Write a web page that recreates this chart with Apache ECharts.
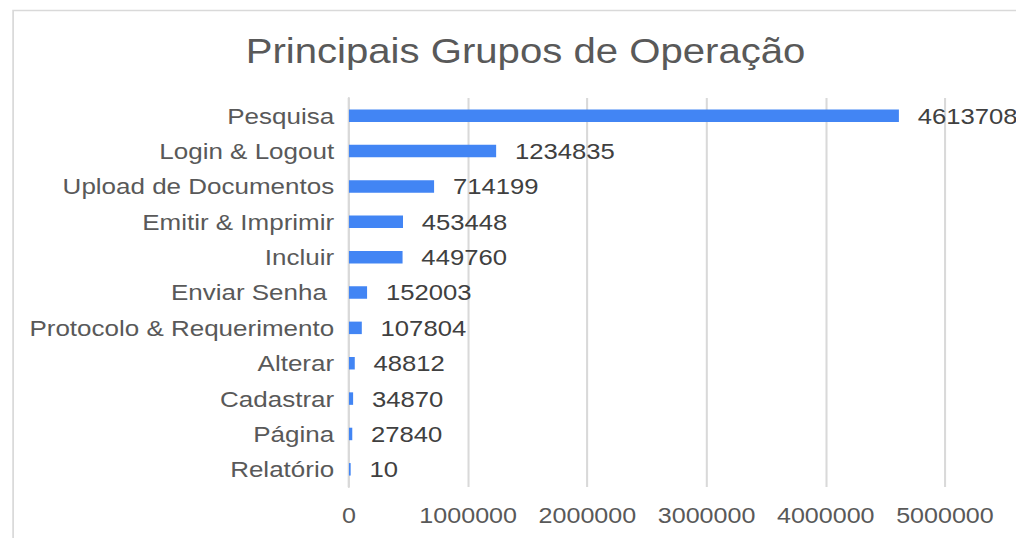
<!DOCTYPE html>
<html>
<head>
<meta charset="utf-8">
<script src="https://cdn.jsdelivr.net/npm/echarts@6/dist/echarts.min.js"></script>
<style>
  html, body { margin: 0; padding: 0; background: #ffffff; overflow: hidden; }
  #wrap { width: 1016px; height: 538px; overflow: hidden; position: relative; }
  #c { width: 892px; height: 538px; transform: scaleX(1.14); transform-origin: 0 0; position: absolute; left: 0; top: 0; }
</style>
</head>
<body>
<div id="wrap"><div id="c"></div></div>
<script>
const titleText = 'Principais Grupos de Operação';
const categories = ['Pesquisa', 'Login & Logout', 'Upload de Documentos', 'Emitir & Imprimir', 'Incluir', 'Enviar Senha ', 'Protocolo & Requerimento', 'Alterar', 'Cadastrar', 'Página', 'Relatório'];
const values = [4613708, 1234835, 714199, 453448, 449760, 152003, 107804, 48812, 34870, 27840, 10];
const axisMin = 0;
const axisMax = 5000000;
const axisInterval = 1000000;

const FONT = "'Liberation Sans', Arial, sans-serif";
const chart = echarts.init(document.getElementById('c'), null, { renderer: 'svg' });
chart.setOption({
  animation: false,
  backgroundColor: '#ffffff',
  title: {
    text: titleText,
    left: 210.5,
    top: 28,
    textStyle: { fontFamily: FONT, fontSize: 35.2, fontWeight: 'normal', color: '#595959' }
  },
  graphic: [{
    type: 'rect',
    shape: { x: 11.5, y: 10.5, width: 2000, height: 1000 },
    style: { fill: 'none', stroke: '#d9d9d9', lineWidth: 1.5 },
    silent: true,
    z: -1
  }],
  grid: { left: 306.1, right: 63.1, top: 98, height: 389, containLabel: false },
  xAxis: {
    type: 'value',
    min: axisMin,
    max: axisMax,
    interval: axisInterval,
    axisLine: { show: false },
    axisTick: { show: false },
    splitLine: { show: true, lineStyle: { color: '#d9d9d9', width: 1.8 } },
    axisLabel: { fontFamily: FONT, fontSize: 22, color: '#595959', margin: 18, formatter: function (v) { return String(v); } }
  },
  yAxis: {
    type: 'category',
    data: categories,
    inverse: true,
    axisLine: { show: true, lineStyle: { color: '#d9d9d9', width: 1.8 } },
    axisTick: { show: false },
    axisLabel: { fontFamily: FONT, fontSize: 22.8, color: '#595959', margin: 13 }
  },
  series: [{
    type: 'bar',
    data: values,
    barWidth: 12.5,
    barMinHeight: 1.5,
    itemStyle: { color: '#4285F4' },
    label: {
      show: true,
      position: 'right',
      distance: 16.5,
      fontFamily: FONT,
      fontSize: 22.5,
      color: '#404040'
    }
  }]
});
</script>
</body>
</html>
